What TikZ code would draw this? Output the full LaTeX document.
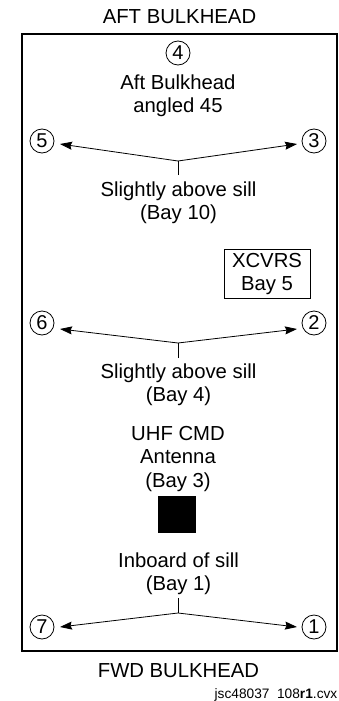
\documentclass[tikz,border=0pt]{standalone}
\usepackage{fontspec}
\setmainfont{Liberation Sans}
\usetikzlibrary{arrows.meta}
\tikzset{
 lbl/.style={font=\fontsize{20.3}{23.2}\selectfont,align=center,inner sep=0pt},
 num/.style={draw,circle,line width=0.8pt,minimum size=24pt,inner sep=0pt,font=\fontsize{20}{23}\selectfont},
 arr/.style={line width=0.8pt,-{Stealth[length=12pt,width=8pt,inset=1.5pt]}},
 lin/.style={line width=0.8pt}
}
\begin{document}
\begin{tikzpicture}[x=1pt,y=-1pt]
\useasboundingbox (0,0) rectangle (339,701);
\node[lbl] (top) at (179.5,17) {AFT BULKHEAD};
\node[draw,line width=1.5pt,minimum width=315pt,minimum height=617pt,inner sep=0pt] (frame) at (179.5,342.5) {};
\node[num] (n4) at (178,53) {4};
\node[lbl] (t1) at (178,95.5) {Aft Bulkhead\\angled 45};
\node[num] (n5) at (42,141) {5};
\node[num] (n3) at (314,141) {3};
\coordinate (j1) at (178,161);
\coordinate (s1) at (178,175);
\coordinate (a5) at (60,144);
\coordinate (a3) at (297,144);
\draw[lin] (s1) -- (j1);
\draw[arr] (j1) -- (a5);
\draw[arr] (j1) -- (a3);
\node[lbl] (t2) at (178.5,203) {Slightly above sill\\(Bay 10)};
\node[lbl,draw,line width=0.8pt,minimum width=86pt,minimum height=49pt] (x) at (267,274) {XCVRS\\Bay 5};
\node[num] (n6) at (42,323) {6};
\node[num] (n2) at (314,323) {2};
\coordinate (j2) at (178,343);
\coordinate (s2) at (178,358);
\coordinate (a6) at (60,329);
\coordinate (a2) at (297,329);
\draw[lin] (s2) -- (j2);
\draw[arr] (j2) -- (a6);
\draw[arr] (j2) -- (a2);
\node[lbl] (t3) at (178.5,384.5) {Slightly above sill\\(Bay 4)};
\node[lbl] (t4) at (178,459) {UHF CMD\\Antenna\\(Bay 3)};
\node[fill=black,minimum width=38pt,minimum height=37pt,inner sep=0pt] (b) at (177,514.5) {};
\node[lbl] (t5) at (178.5,573.5) {Inboard of sill\\(Bay 1)};
\node[num] (n7) at (42,627) {7};
\node[num] (n1) at (314,627) {1};
\coordinate (j3) at (178,613);
\coordinate (s3) at (178,598);
\coordinate (a7) at (60,627);
\coordinate (a1) at (297,627);
\draw[lin] (s3) -- (j3);
\draw[arr] (j3) -- (a7);
\draw[arr] (j3) -- (a1);
\node[lbl] (bot) at (178.5,671) {FWD BULKHEAD};
\node[font=\fontsize{13.7}{15}\selectfont,inner sep=0pt,anchor=base east] (ref) at (337.5,698) {jsc48037\ \ 108\textbf{r1}.cvx};
\end{tikzpicture}
\end{document}
